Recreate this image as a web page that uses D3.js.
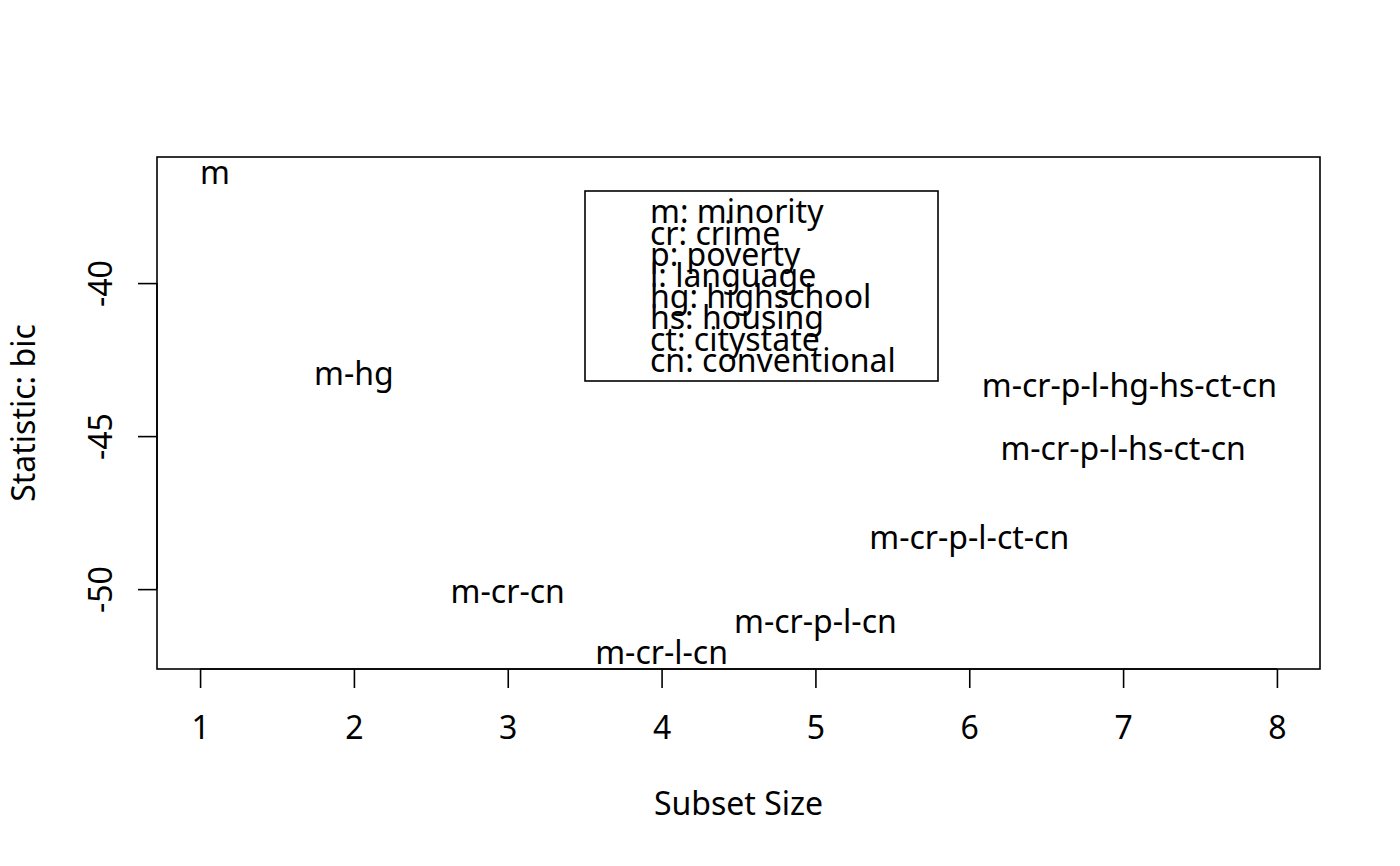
<!DOCTYPE html>
<html>
<head>
<meta charset="utf-8">
<script src="https://cdn.jsdelivr.net/npm/d3@7"></script>
<style>
  body { margin: 0; background: #fff; }
  svg text { font-family: "Noto Sans", sans-serif; fill: #000; }
</style>
</head>
<body>
<svg id="chart"></svg>
<script>
// subsets chosen by size, labelled by abbreviated variable names
let sizes = [1, 2, 3, 4, 5, 6, 7, 8];
let labels = ['m', 'm-hg', 'm-cr-cn', 'm-cr-l-cn', 'm-cr-p-l-cn', 'm-cr-p-l-ct-cn',
              'm-cr-p-l-hs-ct-cn', 'm-cr-p-l-hg-hs-ct-cn'];
let bic = [-36.42, -42.99, -50.12, -52.11, -51.10, -48.33, -45.42, -43.37];
let xTicks = [1, 2, 3, 4, 5, 6, 7, 8];
let yTicks = [-50, -45, -40];
let legendText = ['m: minority', 'cr: crime', 'p: poverty', 'l: language',
                  'hg: highschool', 'hs: housing', 'ct: citystate', 'cn: conventional'];
let xLim = [0.72, 8.28];
let yLim = [-52.61, -35.88];

let width = 1400;
let height = 866;
let pLeft = 157, pRight = 1320, pTop = 157, pBottom = 669;
let fs = 32;

const svg = d3.select('#chart').attr('width', width).attr('height', height);

let xScale = d3.scaleLinear().domain(xLim).range([pLeft, pRight]);
let yScale = d3.scaleLinear().domain(yLim).range([pBottom, pTop]);

// axes
let xAxis = d3.axisBottom(xScale).tickValues(xTicks).tickSize(19)
  .tickFormat((d) => String(d));
let gx = svg.append('g').attr('transform', 'translate(0,' + pBottom + ')').call(xAxis);
gx.select('.domain').attr('d', 'M' + xScale(1) + ',0H' + xScale(8));

let yAxis = d3.axisLeft(yScale).tickValues(yTicks).tickSize(19).tickFormat((d) => String(d));
let gy = svg.append('g').attr('transform', 'translate(' + pLeft + ',0)').call(yAxis);
gy.select('.domain').attr('d', 'M0,' + yScale(-50) + 'V' + yScale(-40));

svg.selectAll('.tick line, .domain').attr('stroke', '#000').attr('stroke-width', 1.6);
gx.selectAll('.tick text').attr('font-size', fs).attr('font-family', null)
  .attr('dy', null).attr('y', 739 - pBottom);
gy.selectAll('.tick text')
  .attr('font-size', fs).attr('font-family', null).attr('x', null).attr('dy', null)
  .attr('text-anchor', 'middle')
  .attr('transform', 'translate(' + (112 - pLeft) + ',0) rotate(-90)');

// plot box
svg.append('rect')
  .attr('x', pLeft).attr('y', pTop)
  .attr('width', pRight - pLeft).attr('height', pBottom - pTop)
  .attr('fill', 'none').attr('stroke', '#000').attr('stroke-width', 1.6);

// point labels: first one left-aligned, last one right-aligned
let last = sizes.length - 1;
svg.selectAll('.lab')
  .data(sizes)
  .enter()
  .append('text')
  .attr('class', 'lab')
  .attr('x', (d) => xScale(d))
  .attr('y', (d, i) => yScale(bic[i]))
  .attr('dy', '0.33em')
  .attr('text-anchor', (d, i) => i == 0 ? 'start' : (i == last ? 'end' : 'middle'))
  .attr('font-size', fs)
  .text((d, i) => labels[i]);

// legend
svg.append('rect')
  .attr('x', 585).attr('y', 191).attr('width', 353).attr('height', 190)
  .attr('fill', 'none').attr('stroke', '#000').attr('stroke-width', 1.6);
svg.selectAll('.leg')
  .data(legendText)
  .enter()
  .append('text')
  .attr('class', 'leg')
  .attr('x', 650)
  .attr('y', (d, i) => 223.3 + i * 21.2)
  .attr('font-size', fs)
  .text((d) => d);

// axis titles
svg.append('text')
  .attr('x', (pLeft + pRight) / 2).attr('y', 815)
  .attr('text-anchor', 'middle').attr('font-size', fs)
  .text('Subset Size');
svg.append('text')
  .attr('transform', 'translate(35,' + ((pTop + pBottom) / 2) + ') rotate(-90)')
  .attr('text-anchor', 'middle').attr('font-size', fs)
  .text('Statistic: bic');
</script>
</body>
</html>
